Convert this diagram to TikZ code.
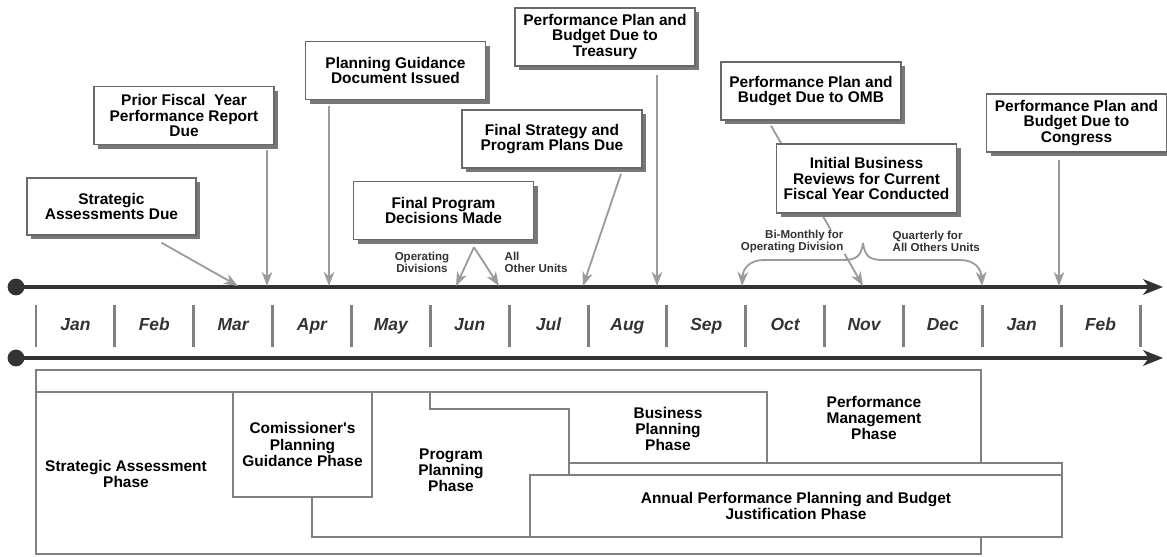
\documentclass[tikz,border=0pt]{standalone}
\usepackage{fontspec}
\setmainfont{Liberation Sans}
\usepackage{tikz}
\usetikzlibrary{arrows.meta,positioning,calc,shadows}
\definecolor{ink}{RGB}{51,51,51}
\definecolor{frame}{RGB}{105,105,105}
\definecolor{shade}{RGB}{120,120,120}
\definecolor{arrowgray}{RGB}{155,155,155}
\definecolor{phasegray}{RGB}{128,128,128}

\begin{document}
\begin{tikzpicture}[x=0.025cm,y=-0.025cm,
  event/.style={rectangle,draw=frame,line width=1pt,fill=white,align=center,
                font=\bfseries\fontsize{11}{11}\selectfont,inner sep=1pt,
                minimum width=4.5cm,minimum height=1.45cm,
                drop shadow={shadow xshift=2.9pt,shadow yshift=-2.9pt,opacity=1,fill=shade}},
  pointer/.style={-{Stealth[length=10pt,width=7.5pt,inset=3pt]},draw=arrowgray,line width=1.3pt},
  axis/.style={-{Stealth[length=14pt,width=11pt,inset=4pt]},draw=ink,line width=2.5pt},
  dot/.style={circle,fill=ink,minimum size=0.42cm,inner sep=0pt},
  tick/.style={draw=phasegray,line width=2.1pt},
  month/.style={font=\bfseries\itshape\fontsize{12.4}{12.4}\selectfont,text=ink,
                text height=1.6ex,text depth=0.4ex},
  note/.style={font=\bfseries\fontsize{8.2}{8}\selectfont,text=ink,fill=white,inner sep=1pt},
  phase/.style={font=\bfseries\fontsize{11}{11.4}\selectfont,align=center},
  phasebox/.style={draw=phasegray,line width=1.4pt,fill=white}
]
\useasboundingbox (0,0) rectangle (1167,557);

% time axes
\node[dot] (dotA) at (16,287) {};
\node[dot] (dotB) at (16,358) {};
\coordinate (endA) at (1163,287);
\coordinate (endB) at (1163,358);
\draw[axis] (dotA.center) -- (endA);
\draw[axis] (dotB.center) -- (endB);

% month scale
\foreach \k in {0,...,14}
  \draw[tick] (36+78.86*\k,305) -- (36+78.86*\k,347);
\foreach \m [count=\k from 0] in {Jan,Feb,Mar,Apr,May,Jun,Jul,Aug,Sep,Oct,Nov,Dec,Jan,Feb}
  \node[month] (m\k) at (75.4+78.86*\k,326) {\m};

% points on the axis
\coordinate (tsad) at (238,286);
\coordinate (tpfy) at (267,286);
\coordinate (tpgd) at (329,286);
\coordinate (tops) at (456,286);
\coordinate (tall) at (499,286);
\coordinate (tfsp) at (583,286);
\coordinate (ttre) at (657,286);
\coordinate (tomb) at (863,286);
\coordinate (tleft) at (742,286);
\coordinate (tright) at (982,286);
\coordinate (tcon) at (1059,286);

% milestone boxes
\node[event,minimum width=4.225cm,minimum height=1.425cm] (sad) at (111.5,206.5) {Strategic\\Assessments Due};
\node[event] (pfy) at (184,115.5) {Prior Fiscal\ \ Year\\Performance Report\\Due};
\node[event] (pgd) at (395.5,70.5) {Planning Guidance\\Document Issued};
\node[event] (fpd) at (443.5,210.5) {Final Program\\Decisions Made};
\node[event] (fsp) at (552,139) {Final Strategy and\\Program Plans Due};
\node[event] (tre) at (605,37) {Performance Plan and\\Budget Due to\\Treasury};
\node[event] (omb) at (811,91) {Performance Plan and\\Budget Due to OMB};
\node[event] (con) at (1076.5,123) {Performance Plan and\\Budget Due to\\Congress};

% pointers down to the axis
\draw[pointer] ($(sad.south)+(50,7)$) -- (tsad);
\draw[pointer] ($(pfy.south -| tpfy)+(0,5)$) -- (tpfy);
\draw[pointer] ($(pgd.south -| tpgd)+(0,6)$) -- (tpgd);
\draw[pointer] ($(fpd.south)+(30.5,7)$) -- (tops);
\draw[pointer] ($(fpd.south)+(30.5,7)$) -- (tall);
\draw[pointer] ($(fsp.south)+(69,5)$) -- (tfsp);
\draw[pointer] ($(tre.south -| ttre)+(0,8)$) -- (ttre);
\draw[pointer] ($(omb.south)+(-40,5)$) -- (tomb);
\draw[pointer] ($(con.south -| tcon)+(0,7)$) -- (tcon);

% reviews box and its brace
\node[event,minimum height=1.72cm] (ibr) at (866.5,178.5) {Initial Business\\Reviews for Current\\Fiscal Year Conducted};
\node[note,align=center] (opdiv) at (422,262.5) {Operating\\Divisions};
\node[note,align=left,anchor=west] (other) at (503,262.5) {All\\Other Units};
\node[note,align=right,anchor=east] (bimon) at (845,241.5) {Bi-Monthly for\\Operating Division};
\node[note,align=left,anchor=west] (quart) at (891,241.5) {Quarterly for\\All Others Units};
\coordinate (brace) at (863,243);
\draw[pointer] (brace) .. controls (861,257) and (856,260) .. (842,260) -- (764,260)
  .. controls (750,260) and (743,268) .. (tleft);
\draw[pointer] (brace) .. controls (865,257) and (870,260) .. (884,260) -- (960,260)
  .. controls (974,260) and (981,268) .. (tright);

% phase boxes
\draw[phasebox] (36,370) rectangle (981,554);
\draw[phasebox,fill=none] (36,392) -- (767,392) -- (767,463);
\draw[phasebox,fill=none] (430,392) -- (430,409) -- (569,409) -- (569,463);
\draw[phasebox] (569,463) rectangle (1062,537);
\draw[phasebox] (530,475) rectangle (1062,537);
\draw[phasebox,fill=none] (312,497) -- (312,537) -- (530,537);
\draw[phasebox] (233,392) rectangle (372,497);

% phase labels
\node[phase] (pstrat) at (126,474) {Strategic Assessment\\Phase};
\node[phase] (pcomm) at (302.5,444.5) {Comissioner\textquotesingle s\\Planning\\Guidance Phase};
\node[phase] (pprog) at (451,470) {Program\\Planning\\Phase};
\node[phase] (pbus) at (668,429) {Business\\Planning\\Phase};
\node[phase] (pperf) at (874,418) {Performance\\Management\\Phase};
\node[phase] (pann) at (796,506) {Annual Performance Planning and Budget\\Justification Phase};
\end{tikzpicture}
\end{document}
